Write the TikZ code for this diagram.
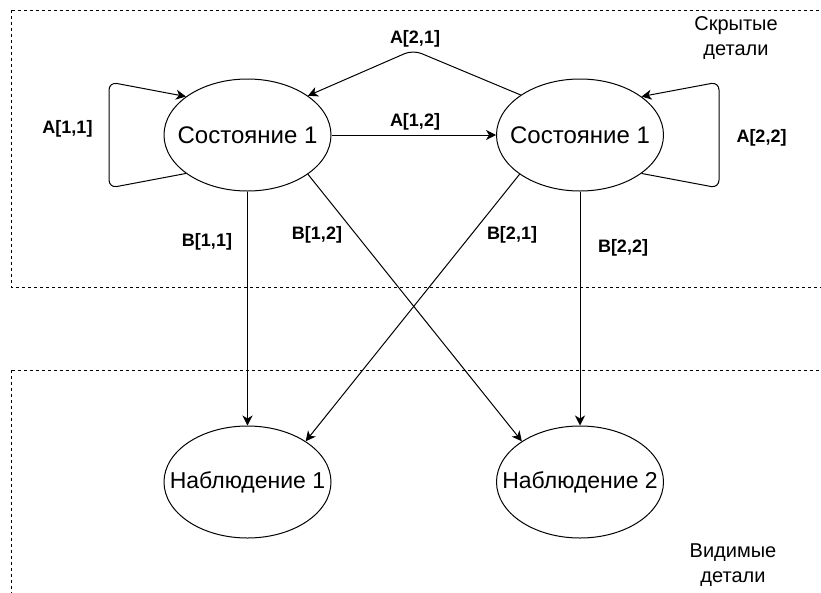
\documentclass[tikz,border=0pt]{standalone}
\usepackage{fontspec}
\setmainfont{Liberation Sans}
\usetikzlibrary{shapes.geometric,arrows.meta}
\newcommand{\zerowidth}[1]{\makebox[0pt][c]{#1}}
\begin{document}
\begin{tikzpicture}[x=1pt,y=-1pt,
  state/.style={ellipse,draw,line width=1pt,minimum width=167pt,minimum height=112pt,inner sep=0pt},
  hidden/.style={state,font=\fontsize{24}{29}\selectfont},
  seen/.style={state,font=\fontsize{23}{28}\selectfont},
  lbl/.style={font=\fontsize{18}{22}\selectfont\bfseries},
  conn/.style={line width=1pt,-{Stealth[length=10pt,width=10pt,inset=3pt]}},
  zone/.style={line width=1pt,dash pattern=on 3pt off 3pt},
  note/.style={align=center,font=\fontsize{20}{25}\selectfont}
]
\useasboundingbox (0,0) rectangle (821,592);
\clip (0,0) rectangle (821,592);

% hidden and visible zones
\draw[zone] (11,10) rectangle (840,287);
\draw[zone] (11,370) rectangle (840,620);

% hidden states and observations (text kept out of the shape size)
\node[hidden] (s1) at (247.5,135) {\zerowidth{Состояние 1}};
\node[hidden] (s2) at (580,135) {\zerowidth{Состояние 1}};
\node[seen] (o1) at (247.5,482) {\zerowidth{Наблюдение 1}};
\node[seen] (o2) at (580,482) {\zerowidth{Наблюдение 2}};

% waypoints of the bent transitions
\coordinate (l1b) at (109,188);
\coordinate (l1t) at (109,82);
\coordinate (l2b) at (719,188);
\coordinate (l2t) at (719,82);
\coordinate (top) at (413,50);

% transitions
\draw[conn,rounded corners=8pt] (s1.212) -- (l1b) -- (l1t) -- (s1.148);
\draw[conn,rounded corners=8pt] (s2.-32) -- (l2b) -- (l2t) -- (s2.32);
\draw[conn,rounded corners=9pt] (s2.146) -- (top) -- (s1.33);
\draw[conn] (s1.east) -- (s2.west);

% emissions
\draw[conn] (s1.south) -- (o1.north);
\draw[conn] (s1.-33) -- (o2.145);
\draw[conn] (s2.213) -- (o1.35);
\draw[conn] (s2.south) -- (o2.north);

% labels
\node[lbl] (a11) at (67.5,129) {A[1,1]};
\node[lbl] (a21) at (415,39) {A[2,1]};
\node[lbl] (a12) at (415,122) {A[1,2]};
\node[lbl] (a22) at (761.5,138) {A[2,2]};
\node[lbl] (b11) at (207,242) {B[1,1]};
\node[lbl] (b12) at (317,235) {B[1,2]};
\node[lbl] (b21) at (512,235) {B[2,1]};
\node[lbl] (b22) at (623,248) {B[2,2]};

\node[note] (hid) at (736,38) {Скрытые\\детали};
\node[note] (vis) at (733,565) {Видимые\\детали};
\end{tikzpicture}
\end{document}
